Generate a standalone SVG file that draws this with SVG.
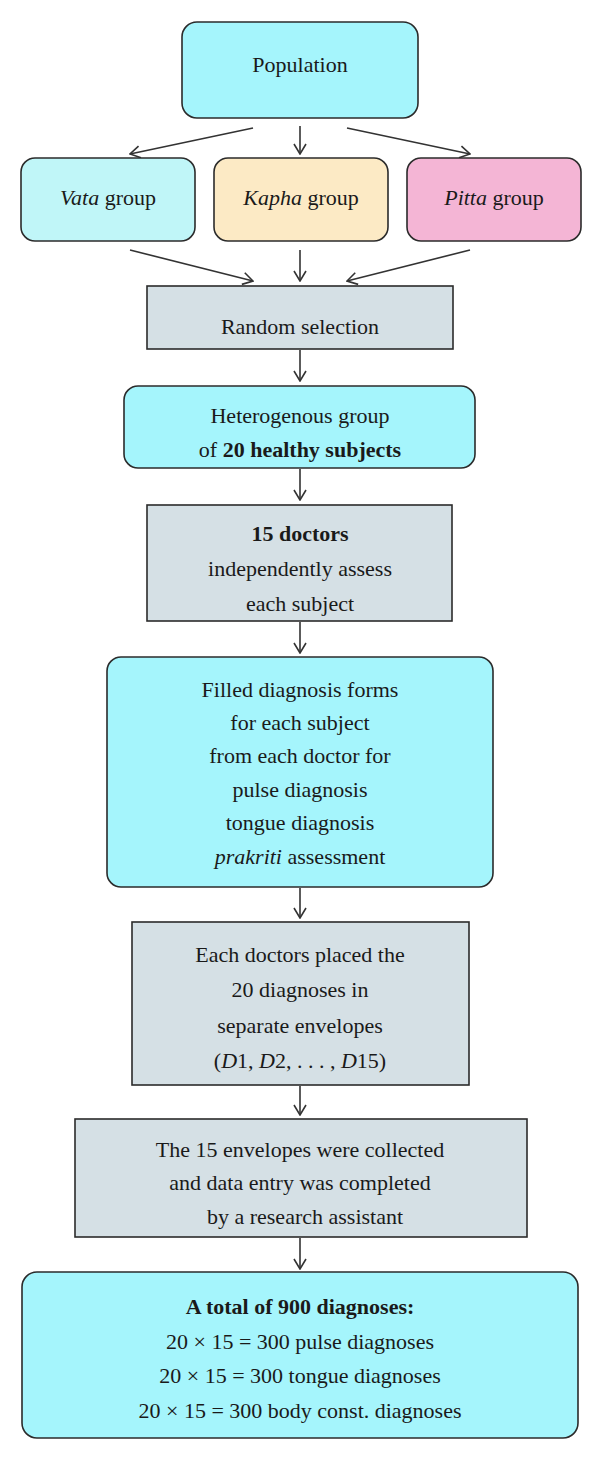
<svg xmlns="http://www.w3.org/2000/svg" width="600" height="1459" viewBox="0 0 600 1459">
<style>
.box{stroke:#2b2b2b;stroke-width:1.6}
.cyan{fill:#a5f5fc}
.vata{fill:#c0f6f8}
.kapha{fill:#fceac5}
.pitta{fill:#f4b5d5}
.gray{fill:#d5e0e5}
text{font-family:"Liberation Serif","Times New Roman",serif;font-size:22px;fill:#1a1a1a;text-anchor:middle}
.b{font-weight:bold}
.i{font-style:italic}
.conn line{stroke:#333;stroke-width:1.6;fill:none;marker-end:url(#ah)}
</style>
<defs>
<marker id="ah" viewBox="0 0 12 14" refX="11" refY="7" markerWidth="12" markerHeight="14" markerUnits="userSpaceOnUse" orient="auto">
<path d="M1,1 L11,7 L1,13" fill="none" stroke="#333" stroke-width="1.6"/>
</marker>
</defs>
<rect width="600" height="1459" fill="#fff"/>
<g class="conn">
<line x1="253" y1="128" x2="130" y2="154"/>
<line x1="300" y1="126" x2="300" y2="154"/>
<line x1="347" y1="128" x2="470" y2="154"/>
<line x1="130" y1="250" x2="253" y2="281"/>
<line x1="300" y1="250" x2="300" y2="281"/>
<line x1="470" y1="250" x2="347" y2="281"/>
<line x1="300" y1="350" x2="300" y2="381"/>
<line x1="300" y1="469" x2="300" y2="500"/>
<line x1="300" y1="622" x2="300" y2="653"/>
<line x1="300" y1="888" x2="300" y2="918"/>
<line x1="300" y1="1086" x2="300" y2="1115"/>
<line x1="300" y1="1238" x2="300" y2="1269"/>
</g>
<g id="population">
<rect class="box cyan" x="182" y="22" width="236" height="96" rx="15"/>
<text x="300" y="72">Population</text>
</g>
<g id="vata">
<rect class="box vata" x="21" y="158" width="174" height="83" rx="14"/>
<text x="108" y="205"><tspan class="i">Vata</tspan> group</text>
</g>
<g id="kapha">
<rect class="box kapha" x="214" y="158" width="174" height="83" rx="14"/>
<text x="301" y="205"><tspan class="i">Kapha</tspan> group</text>
</g>
<g id="pitta">
<rect class="box pitta" x="407" y="158" width="174" height="83" rx="14"/>
<text x="494" y="205"><tspan class="i">Pitta</tspan> group</text>
</g>
<g id="random">
<rect class="box gray" x="147" y="286" width="306" height="63"/>
<text x="300" y="334">Random selection</text>
</g>
<g id="heterogenous">
<rect class="box cyan" x="124" y="386" width="351" height="82" rx="14"/>
<text x="300" y="423">Heterogenous group</text>
<text x="300" y="457">of <tspan class="b">20 healthy subjects</tspan></text>
</g>
<g id="doctors">
<rect class="box gray" x="147" y="505" width="305" height="116"/>
<text x="300" y="541" class="b">15 doctors</text>
<text x="300" y="576">independently assess</text>
<text x="300" y="611">each subject</text>
</g>
<g id="forms">
<rect class="box cyan" x="107" y="657" width="386" height="230" rx="14"/>
<text x="300" y="697">Filled diagnosis forms</text>
<text x="300" y="730">for each subject</text>
<text x="300" y="763">from each doctor for</text>
<text x="300" y="797">pulse diagnosis</text>
<text x="300" y="830">tongue diagnosis</text>
<text x="300" y="864"><tspan class="i">prakriti</tspan> assessment</text>
</g>
<g id="envelopes">
<rect class="box gray" x="132" y="922" width="337" height="163"/>
<text x="300" y="962">Each doctors placed the</text>
<text x="300" y="997">20 diagnoses in</text>
<text x="300" y="1033">separate envelopes</text>
<text x="300" y="1068">(<tspan class="i">D</tspan>1, <tspan class="i">D</tspan>2, . . . , <tspan class="i">D</tspan>15)</text>
</g>
<g id="collected">
<rect class="box gray" x="75" y="1119" width="452" height="118"/>
<text x="300" y="1157">The 15 envelopes were collected</text>
<text x="300" y="1190">and data entry was completed</text>
<text x="305" y="1224">by a research assistant</text>
</g>
<g id="total">
<rect class="box cyan" x="22" y="1272" width="556" height="166" rx="15"/>
<text x="300" y="1314" class="b">A total of 900 diagnoses:</text>
<text x="300" y="1349">20 × 15 = 300 pulse diagnoses</text>
<text x="300" y="1383">20 × 15 = 300 tongue diagnoses</text>
<text x="300" y="1418">20 × 15 = 300 body const. diagnoses</text>
</g>
</svg>
